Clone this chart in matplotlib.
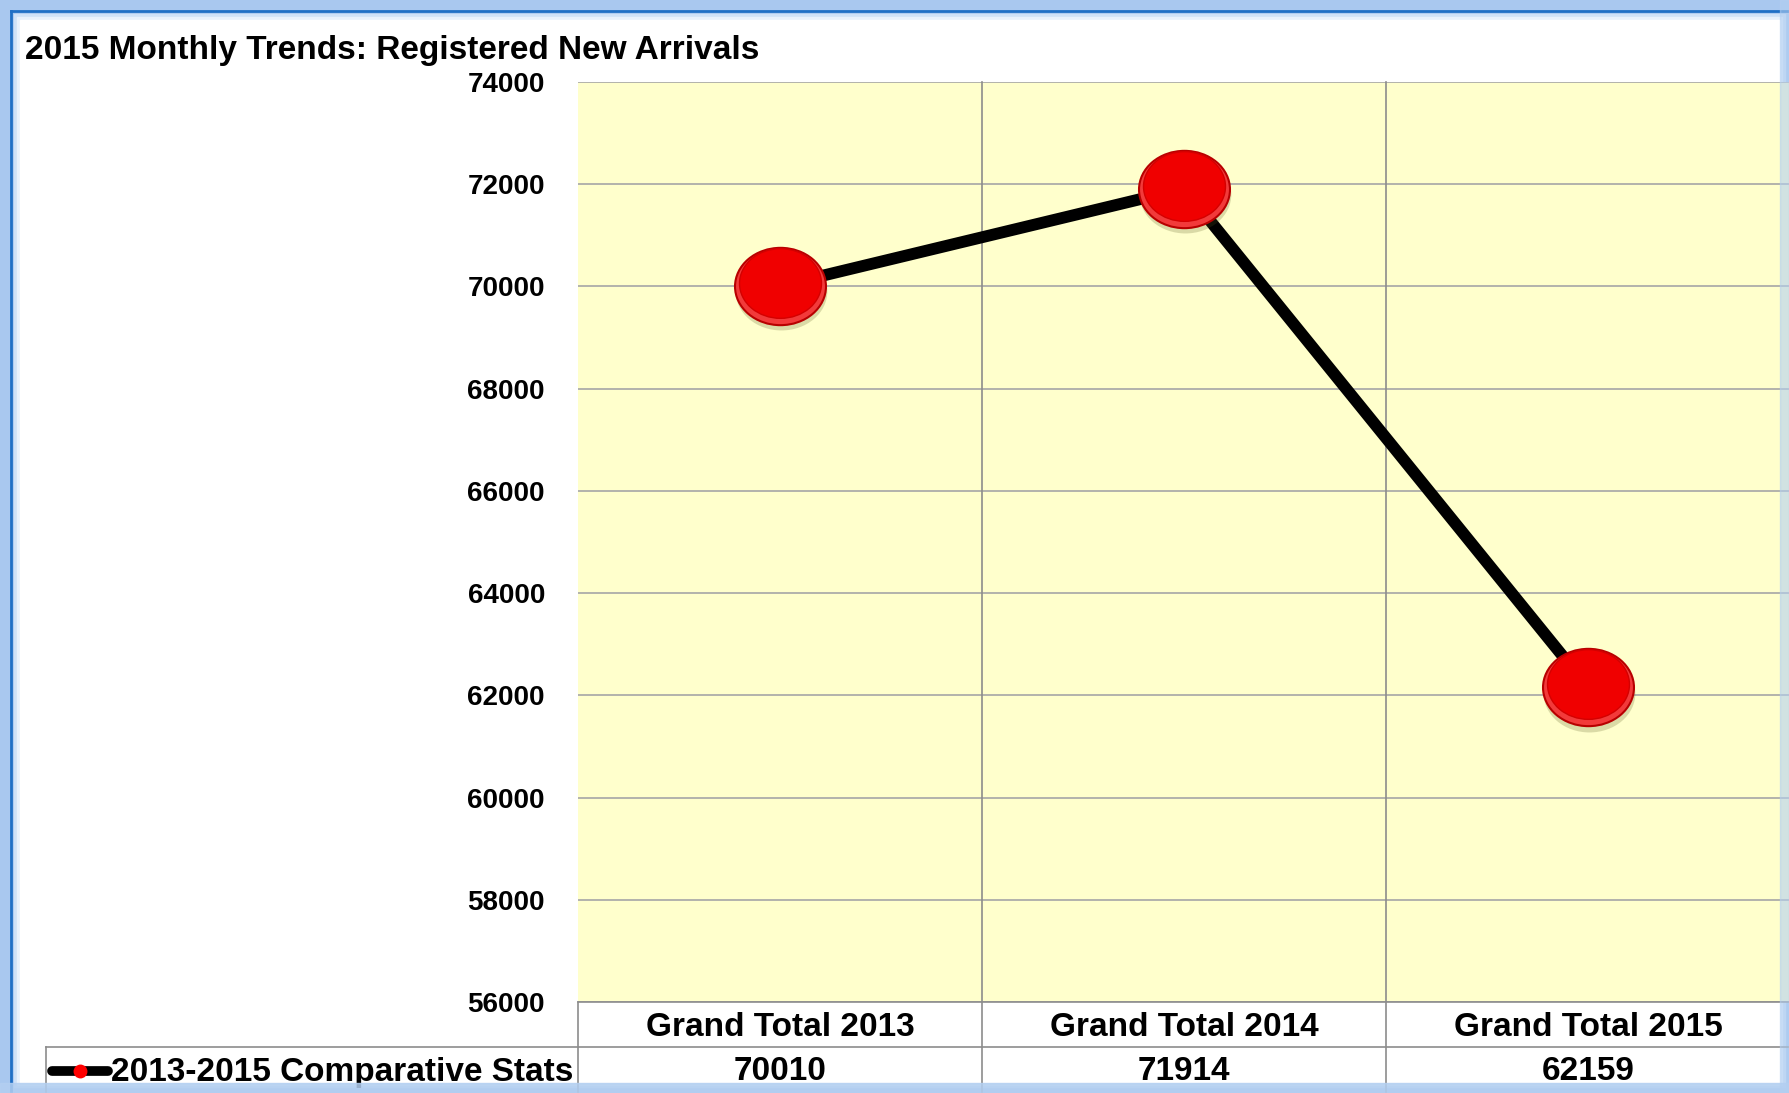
import numpy as np
import matplotlib
matplotlib.use("Agg")
import matplotlib.pyplot as plt
from matplotlib.path import Path
from matplotlib.patches import Rectangle
from matplotlib.lines import Line2D
from matplotlib.transforms import Affine2D, ScaledTranslation, blended_transform_factory

# data
categories = ["Grand Total 2013", "Grand Total 2014", "Grand Total 2015"]
values = [70010, 71914, 62159]
series_name = "2013-2015 Comparative Stats"
title = "2015 Monthly Trends: Registered New Arrivals"
yticks = list(range(56000, 74001, 2000))

W, H = 1789, 1093
plt.rcParams['font.family'] = ['Liberation Sans', 'DejaVu Sans']
plt.rcParams['font.weight'] = 'bold'


def fx(px):
    return px / W


def fy(py):
    return 1 - py / H


fig = plt.figure(figsize=(W / 100, H / 100), dpi=100)
fig.patch.set_facecolor('#a9c8ef')

# blue window frame with a soft inner edge
for (x0, y0, x1, y1), c in [((14, 14, 1785, 1087), '#cfe1f7'),
                            ((17, 17, 1782, 1085), '#e8f1fc'),
                            ((20, 20, 1780, 1083), 'white')]:
    fig.add_artist(Rectangle((fx(x0), fy(y1)), fx(x1 - x0), (y1 - y0) / H,
                             transform=fig.transFigure, color=c, zorder=-2))
fig.add_artist(Line2D([fx(11), 1], [fy(11), fy(11)], color='#1f6fc5', lw=2, zorder=-1))
fig.add_artist(Line2D([fx(11), fx(11)], [fy(11), 0], color='#1f6fc5', lw=2, zorder=-1))

ax = fig.add_axes([fx(578), fy(1002), fx(1790 - 578), (1002 - 82) / H])
ax.set_facecolor('#ffffcc')
for s in ax.spines.values():
    s.set_visible(False)
ax.set_xlim(-0.5, 2.5)
ax.set_ylim(56000, 74000)
ax.set_yticks(yticks)
ax.set_xticks([])
ax.yaxis.grid(True, color='#a6a6a6', lw=1.2)
ax.set_axisbelow(True)
ax.tick_params(axis='y', length=0, pad=23.8, labelsize=20)

x = np.arange(len(categories))
ax.plot(x, values, color='black', lw=8.5, zorder=3, solid_capstyle='butt')

# 3D-ish red ellipse markers
ell = Path.unit_circle().transformed(Affine2D().scale(1, 0.85))
shadow = ax.transData + ScaledTranslation(1 / 72, -4 / 72, fig.dpi_scale_trans)
up = ax.transData + ScaledTranslation(0, 2 / 72, fig.dpi_scale_trans)
ax.plot(x, values, ls='none', marker=ell, ms=66, mfc='#5a5a20', mec='none',
        alpha=0.22, transform=shadow, zorder=4)
ax.plot(x, values, ls='none', marker=ell, ms=65.5, mfc='#f23a3a', mec='#b80000',
        mew=1.5, zorder=5)
ax.plot(x, values, ls='none', marker=ell, ms=59, mfc='#f00000', mec='#d40000',
        mew=1, transform=up, zorder=6)

# data table under the plot
grid_c = '#8c8c8c'
bt = blended_transform_factory(ax.transData, fig.transFigure)
for xv in [-0.5, 0.5, 1.5]:
    top = fy(1002) if xv == -0.5 else fy(82)
    ax.add_line(Line2D([xv, xv], [top, 0], transform=bt, color=grid_c, lw=1.2, clip_on=False, zorder=2))
ax.add_line(Line2D([-0.5, 2.6], [fy(1002), fy(1002)], transform=bt, color=grid_c, lw=1.2, clip_on=False, zorder=2))
fig.add_artist(Line2D([fx(46), 1], [fy(1047), fy(1047)], color=grid_c, lw=1.2))
fig.add_artist(Line2D([fx(46), fx(46)], [fy(1047), 0], color=grid_c, lw=1.2))

for i, (cat, v) in enumerate(zip(categories, values)):
    ax.text(i, fy(1027), cat, transform=bt, ha='center', va='center', fontsize=24, clip_on=False)
    ax.text(i, fy(1072), f"{v}", transform=bt, ha='center', va='center', fontsize=24, clip_on=False)

fig.add_artist(Line2D([fx(52), fx(108)], [fy(1071), fy(1071)], color='black', lw=7,
                      solid_capstyle='round'))
fig.add_artist(Line2D([fx(80)], [fy(1071)], ls='none', marker='o', ms=10,
                      mfc='#ff0000', mec='none'))
fig.text(fx(111), fy(1072), series_name, ha='left', va='center', fontsize=24)

fig.text(fx(25), fy(59), title, ha='left', va='baseline', fontsize=24)

# frame shading over the bottom and right edge
fig.add_artist(Rectangle((0, 0), 1, (H - 1083) / H, transform=fig.transFigure,
                         color='#b3cff1', alpha=0.85, zorder=5))
fig.add_artist(Rectangle((fx(1780), 0), fx(9), 1, transform=fig.transFigure,
                         color='#b3cff1', alpha=0.6, zorder=5))

fig.savefig("out.png", dpi=100, facecolor=fig.get_facecolor())
